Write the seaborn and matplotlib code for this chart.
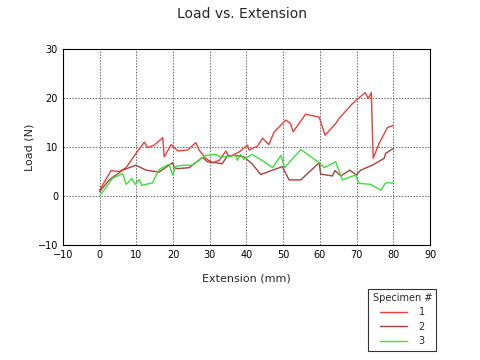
import pandas as pd
import numpy as np
import seaborn as sns
import matplotlib.pyplot as plt
from matplotlib.ticker import MultipleLocator

# specimen 1 (bright red)
ext1 = [0, 3.1, 5.4, 7.2, 9.9, 12.2, 13.1, 14.9, 17.2, 17.6, 19.5, 21.3, 24.0, 26.2, 27.1,
        28.9, 30.7, 32.6, 34.4, 35.3, 38.0, 40.3, 40.7, 43.0, 44.4, 46.1, 47.5, 50.7, 52.0,
        52.7, 56.1, 59.8, 61.4, 64.3, 65.2, 68.8, 72.3, 73.2, 74.0, 74.5, 76.1, 78.4, 80.0]
load1 = [1.2, 5.2, 5.0, 5.8, 8.7, 11.0, 9.9, 10.4, 11.9, 8.0, 10.5, 9.2, 9.4, 10.9, 9.4,
         7.7, 6.8, 7.3, 9.2, 8.0, 9.0, 10.4, 9.4, 10.2, 11.8, 10.5, 13.0, 15.5, 14.8,
         13.1, 16.7, 16.1, 12.4, 14.8, 15.8, 18.8, 21.1, 19.9, 21.1, 7.7, 10.7, 14.0, 14.4]

# specimen 2 (dark red)
ext2 = [0, 2.6, 6.3, 9.9, 12.6, 16.2, 19.9, 20.3, 21.2, 24.4, 28.0, 29.4, 31.6, 33.4, 34.8,
        37.0, 39.3, 41.5, 43.9, 47.1, 49.8, 51.6, 54.8, 56.2, 59.8, 60.2, 63.4, 64.1, 65.7,
        68.1, 69.9, 71.1, 74.3, 77.5, 77.9, 80.0]
load2 = [0.9, 3.3, 5.3, 6.3, 5.3, 4.9, 6.8, 5.8, 5.6, 5.8, 7.9, 7.0, 6.8, 6.6, 8.2,
         8.3, 8.0, 6.6, 4.4, 5.3, 6.0, 3.3, 3.3, 4.3, 6.8, 4.5, 4.1, 5.2, 4.1,
         5.3, 4.3, 5.3, 6.3, 7.7, 8.7, 9.7]

# specimen 3 (green)
ext3 = [0, 3.5, 6.3, 7.2, 8.8, 9.7, 10.8, 11.5, 14.4, 16.2, 18.9, 19.9, 20.8, 23.0, 25.3,
        27.1, 28.9, 31.6, 33.0, 34.8, 37.0, 37.5, 38.4, 39.3, 41.5, 44.8, 47.1, 49.4, 50.4,
        54.8, 59.8, 61.2, 64.3, 66.1, 69.7, 70.6, 73.8, 76.6, 77.9, 80.0]
load3 = [0.0, 3.6, 4.6, 2.4, 3.6, 2.4, 3.4, 2.2, 2.7, 5.4, 6.5, 4.3, 6.1, 6.3, 6.3,
         7.3, 8.3, 8.5, 7.9, 8.1, 8.3, 7.3, 8.5, 7.5, 8.5, 7.0, 5.8, 8.3, 5.8,
         9.5, 6.8, 5.8, 7.0, 3.3, 4.3, 2.6, 2.4, 1.2, 2.7, 2.7]

specimens = ["1", "2", "3"]
colors = ["#e8403c", "#a8423c", "#3ce03c"]

df = pd.concat([
    pd.DataFrame({"ext": e, "load": l, "spec": s})
    for e, l, s in zip([ext1, ext2, ext3], [load1, load2, load3], specimens)
])

sns.set_style("white")
plt.rcParams['font.family'] = ['DejaVu Sans']

fig = plt.figure(figsize=(4.8, 3.6), dpi=100)
ax = fig.add_axes([0.131, 0.319, 0.765, 0.545])

for s, c in zip(specimens, colors):
    sns.lineplot(data=df[df.spec == s], x="ext", y="load", color=c, lw=1.0,
                 sort=False, ax=ax, label=s)

ax.set_xlim(-10, 90)
ax.set_ylim(-10, 30)
ax.xaxis.set_major_locator(MultipleLocator(10))
ax.yaxis.set_major_locator(MultipleLocator(10))
ax.xaxis.set_minor_locator(MultipleLocator(5))
ax.yaxis.set_minor_locator(MultipleLocator(5))
ax.tick_params(which="both", direction="in", labelsize=7, colors="black")
ax.tick_params(which="major", length=4)
ax.tick_params(which="minor", length=3)
ax.grid(True, which="major", linestyle=(0, (1.5, 1.5)), color="#666666", lw=0.7)
for sp in ax.spines.values():
    sp.set_color("black")
    sp.set_linewidth(0.8)

ax.set_xlabel("Extension (mm)", fontsize=8, labelpad=10)
ax.set_ylabel("Load (N)", fontsize=8, labelpad=2)
fig.text(0.505, 0.96, "Load vs. Extension", ha="center", va="center", fontsize=10)

h, l = ax.get_legend_handles_labels()
ax.get_legend().remove()
leg = fig.legend(h, l, title="Specimen #", loc="upper left",
                 bbox_to_anchor=(0.767, 0.198), fontsize=7, title_fontsize=7,
                 frameon=True, fancybox=False, edgecolor="black",
                 handlelength=2.8, handletextpad=1.2, labelspacing=0.45,
                 borderpad=0.45, borderaxespad=0)
leg.get_frame().set_linewidth(0.8)

fig.savefig("out.png", dpi=100)
